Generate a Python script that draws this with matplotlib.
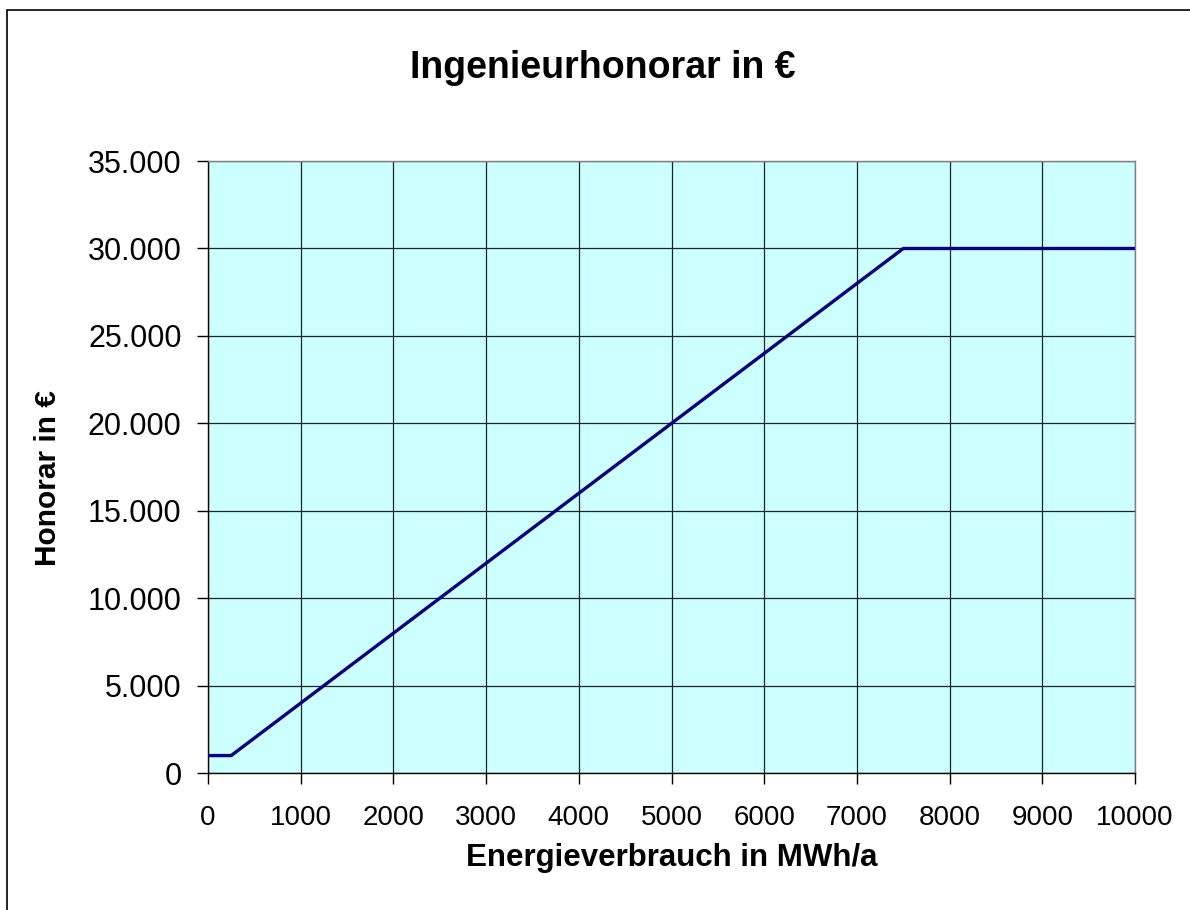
import matplotlib
matplotlib.use("Agg")
import matplotlib.pyplot as plt
from matplotlib.ticker import FuncFormatter, MultipleLocator
from matplotlib.patches import Rectangle

plt.rcParams["font.family"] = ["Liberation Sans", "DejaVu Sans"]

# Energieverbrauch (MWh/a) und Honorar (€)
energy = [0, 250, 7500, 10000]
fee = [1000, 1000, 30000, 30000]

fig = plt.figure(figsize=(11.9, 9.1), dpi=100)
ax = fig.add_axes([0.1748, 0.1505, 0.779, 0.6725])

# outer chart frame (Excel style, only left/top visible in crop)
fig.add_artist(Rectangle((7 / 1190, -0.05), 1.2, 1 - 10 / 910 + 0.05,
                         transform=fig.transFigure, fill=False,
                         edgecolor="black", linewidth=1.2))

ax.set_facecolor("#CCFFFF")
ax.plot(energy, fee, color="#000080", linewidth=2.4, zorder=3)

ax.set_xlim(0, 10000)
ax.set_ylim(0, 35000)
ax.xaxis.set_major_locator(MultipleLocator(1000))
ax.yaxis.set_major_locator(MultipleLocator(5000))
ax.yaxis.set_major_formatter(FuncFormatter(lambda v, p: f"{int(v):,}".replace(",", ".")))
ax.grid(True, color="#222222", linewidth=0.9, zorder=1)
ax.set_axisbelow(True)

for s in ["top", "right"]:
    ax.spines[s].set_color("#808080")
for s in ["left", "bottom"]:
    ax.spines[s].set_color("black")
for s in ax.spines.values():
    s.set_linewidth(1.0)

ax.tick_params(axis="both", direction="out", length=8, width=1)
ax.tick_params(axis="y", pad=11, labelsize=22)
ax.tick_params(axis="x", pad=15, labelsize=20)

fig.text(603 / 1190, 1 - 68 / 910, "Ingenieurhonorar in €", ha="center", va="center",
         fontsize=27, fontweight="bold")
fig.text(672 / 1190, 1 - 858 / 910, "Energieverbrauch in MWh/a", ha="center", va="center",
         fontsize=22.5, fontweight="bold")
fig.text(48 / 1190, 1 - 478 / 910, "Honorar in €", ha="center", va="center", rotation=90,
         fontsize=21.5, fontweight="bold")

fig.savefig("out.png", dpi=100)
